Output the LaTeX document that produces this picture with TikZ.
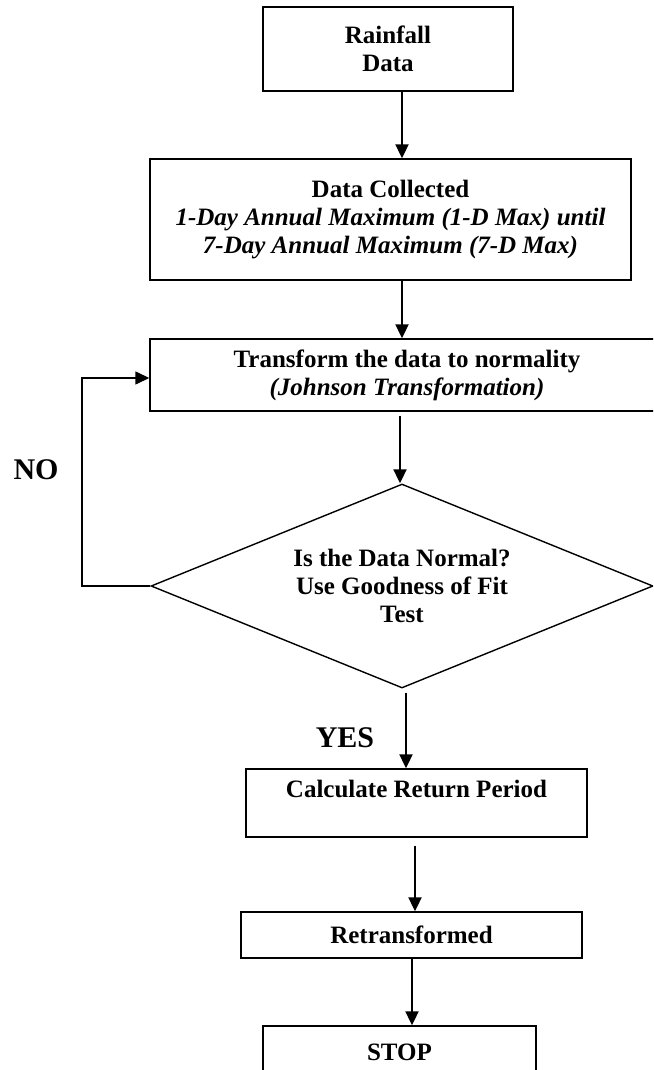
\documentclass[tikz,border=0pt]{standalone}
\usepackage{fontspec}
\setmainfont{Liberation Serif}
\usetikzlibrary{shapes.geometric,arrows.meta}
\begin{document}
\begin{tikzpicture}[x=0.5pt,y=-0.5pt,>={Triangle[length=7pt,width=6.5pt]}]
	\tikzstyle{block}=[rectangle,draw=black,line width=0.7pt,align=center,inner sep=2pt,font=\fontsize{12.5}{14}\selectfont\bfseries]
	\tikzstyle{decision}=[diamond,draw=black,line width=0.7pt,align=center,inner sep=0pt,aspect=2.46,minimum width=251pt,minimum height=102pt,font=\fontsize{12.5}{14}\selectfont\bfseries]
	\tikzstyle{edge}=[draw=black,line width=1pt]
	\tikzstyle{answer}=[font=\fontsize{15}{17}\selectfont\bfseries]

	\useasboundingbox (0,0) rectangle (653,1070);
	\clip (0,0) rectangle (653,1070);

	\node [block,minimum width=125pt,minimum height=42pt] (rain) at (388,49) {Rainfall\\Data};
	\node [block,minimum width=240.5pt,minimum height=60.5pt] (coll) at (390.5,219.5) {Data Collected\\{\itshape 1-Day Annual Maximum (1-D Max) until}\\{\itshape 7-Day Annual Maximum (7-D Max)}};
	\node [block,minimum width=257pt,minimum height=36pt] (trans) at (407,375) {Transform the data to normality\\{\itshape (Johnson Transformation)}};
	\node [decision] (diam) at (402,586) {Is the Data Normal?\\Use Goodness of Fit\\Test};
	\node [block,minimum width=170.5pt,minimum height=34pt] (calc) at (416.5,803) {Calculate Return Period\\\mbox{}};
	\node [block,minimum width=170.5pt,minimum height=23pt] (retr) at (411.5,935) {Retransformed};
	\node [block,minimum width=136.5pt,minimum height=26pt] (stop) at (399.5,1052) {STOP};

	\node [answer] (no) at (36,470) {NO};
	\node [answer] (yes) at (345,738) {YES};
	\coordinate (bend) at (82,586);

	\path[edge,->] ([xshift=7pt]rain.south) -- ([xshift=7pt]rain.south |- coll.north);
	\path[edge,->] ([xshift=5.75pt]coll.south) -- ([xshift=5.75pt]coll.south |- trans.north);
	\path[edge,->,shorten <=2pt] ([xshift=-3.5pt]trans.south) -- ([xshift=-3.5pt]trans.south |- diam.north);
	\path[edge,->,shorten <=2pt] ([xshift=2pt]diam.south) -- ([xshift=2pt]diam.south |- calc.north);
	\path[edge,->,shorten <=4pt] ([xshift=-0.75pt]calc.south) -- ([xshift=-0.75pt]calc.south |- retr.north);
	\path[edge,->] ([xshift=0.25pt]retr.south) -- ([xshift=0.25pt]retr.south |- stop.north);
	\path[edge,->,line width=0.7pt] (diam.west) -- (bend) |- ([yshift=-1.5pt]trans.west);

\end{tikzpicture}
\end{document}
